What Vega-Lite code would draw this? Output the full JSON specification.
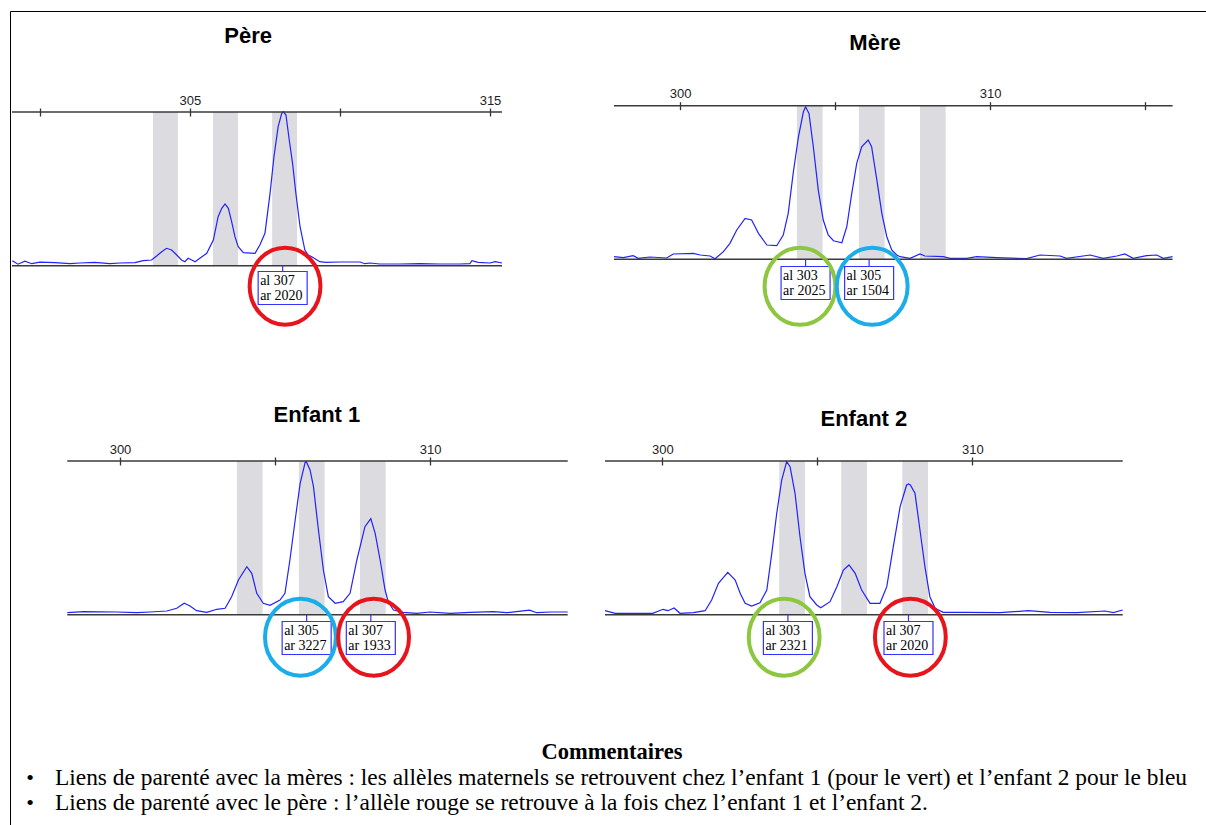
{
 "$schema": "https://vega.github.io/schema/vega-lite/v6.json",
 "width": 1196,
 "height": 814,
 "padding": {"left": 10, "top": 11, "right": 0, "bottom": 0},
 "autosize": {"type": "none"},
 "background": "white",
 "config": {"view": {"stroke": "#000000", "strokeWidth": 1}, "font": "Liberation Sans"},
 "datasets": {
  "bins": [{"debut": 303.77, "fin": 304.6}, {"debut": 305.77, "fin": 306.6}, {"debut": 307.74, "fin": 308.57}],
  "alleles": [
   {"panel": "Père", "allele": 307, "aire": 2020, "pb": 308.09},
   {"panel": "Mère", "allele": 303, "aire": 2025, "pb": 304.05},
   {"panel": "Mère", "allele": 305, "aire": 1504, "pb": 306.1},
   {"panel": "Enfant 1", "allele": 305, "aire": 3227, "pb": 306.02},
   {"panel": "Enfant 1", "allele": 307, "aire": 1933, "pb": 308.09},
   {"panel": "Enfant 2", "allele": 303, "aire": 2321, "pb": 304.05},
   {"panel": "Enfant 2", "allele": 307, "aire": 2020, "pb": 307.94}
  ],
  "cercles": [
   {"panel": "Père", "groupe": "paternel", "pb": 308.17},
   {"panel": "Mère", "groupe": "maternel A", "pb": 303.87},
   {"panel": "Mère", "groupe": "maternel B", "pb": 306.2},
   {"panel": "Enfant 1", "groupe": "maternel B", "pb": 305.82},
   {"panel": "Enfant 1", "groupe": "paternel", "pb": 308.18},
   {"panel": "Enfant 2", "groupe": "maternel A", "pb": 303.93},
   {"panel": "Enfant 2", "groupe": "paternel", "pb": 308.0}
  ],
  "textes": [
   {"ligne": 0, "type": "titre", "texte": "Commentaires"},
   {"ligne": 1, "type": "puce", "texte": "Liens de parenté avec la mères :  les allèles maternels se retrouvent chez l’enfant 1 (pour le vert) et l’enfant 2 pour le bleu"},
   {"ligne": 2, "type": "puce", "texte": "Liens de parenté avec le père : l’allèle rouge se retrouve à la fois chez l’enfant 1 et l’enfant 2."}
  ],
  "traces": [
   {"panel":"Père","pb":299.08,"signal":5},{"panel":"Père","pb":299.27,"signal":1.5},{"panel":"Père","pb":299.5,"signal":4.5},{"panel":"Père","pb":299.73,"signal":2},{"panel":"Père","pb":300.0,"signal":3.5},{"panel":"Père","pb":300.5,"signal":3},{"panel":"Père","pb":301.0,"signal":2},{"panel":"Père","pb":301.33,"signal":2.7},{"panel":"Père","pb":301.83,"signal":3.4},{"panel":"Père","pb":302.33,"signal":2},{"panel":"Père","pb":302.67,"signal":2.7},{"panel":"Père","pb":303.17,"signal":3},{"panel":"Père","pb":303.44,"signal":5},{"panel":"Père","pb":303.72,"signal":5.7},{"panel":"Père","pb":303.89,"signal":9.7},{"panel":"Père","pb":304.06,"signal":14},{"panel":"Père","pb":304.22,"signal":17.4},{"panel":"Père","pb":304.39,"signal":15.7},{"panel":"Père","pb":304.56,"signal":10.7},{"panel":"Père","pb":304.72,"signal":5.7},{"panel":"Père","pb":304.83,"signal":4},{"panel":"Père","pb":304.94,"signal":7.4},{"panel":"Père","pb":305.06,"signal":5.7},{"panel":"Père","pb":305.17,"signal":4},{"panel":"Père","pb":305.33,"signal":7.4},{"panel":"Père","pb":305.56,"signal":12.4},{"panel":"Père","pb":305.78,"signal":25.7},{"panel":"Père","pb":305.94,"signal":49},{"panel":"Père","pb":306.06,"signal":57.4},{"panel":"Père","pb":306.17,"signal":61.7},{"panel":"Père","pb":306.28,"signal":57.4},{"panel":"Père","pb":306.39,"signal":44},{"panel":"Père","pb":306.5,"signal":29},{"panel":"Père","pb":306.61,"signal":19},{"panel":"Père","pb":306.78,"signal":13},{"panel":"Père","pb":307.17,"signal":12.4},{"panel":"Père","pb":307.33,"signal":20.7},{"panel":"Père","pb":307.5,"signal":32.4},{"panel":"Père","pb":307.67,"signal":72.4},{"panel":"Père","pb":307.8,"signal":109},{"panel":"Père","pb":307.94,"signal":139},{"panel":"Père","pb":308.06,"signal":152.4},{"panel":"Père","pb":308.11,"signal":154},{"panel":"Père","pb":308.2,"signal":150.7},{"panel":"Père","pb":308.31,"signal":125.7},{"panel":"Père","pb":308.42,"signal":102.4},{"panel":"Père","pb":308.53,"signal":72.4},{"panel":"Père","pb":308.67,"signal":39},{"panel":"Père","pb":308.83,"signal":15.7},{"panel":"Père","pb":308.94,"signal":10.7},{"panel":"Père","pb":309.06,"signal":9},{"panel":"Père","pb":309.33,"signal":4},{"panel":"Père","pb":309.53,"signal":3.4},{"panel":"Père","pb":310.0,"signal":3.7},{"panel":"Père","pb":310.67,"signal":3.7},{"panel":"Père","pb":310.83,"signal":2},{"panel":"Père","pb":311.0,"signal":2.7},{"panel":"Père","pb":311.33,"signal":1.7},{"panel":"Père","pb":312.0,"signal":1.7},{"panel":"Père","pb":312.67,"signal":2},{"panel":"Père","pb":313.33,"signal":1.7},{"panel":"Père","pb":314.0,"signal":1.7},{"panel":"Père","pb":314.33,"signal":2},{"panel":"Père","pb":314.4,"signal":5},{"panel":"Père","pb":314.6,"signal":3.4},{"panel":"Père","pb":315.0,"signal":2.7},{"panel":"Père","pb":315.17,"signal":4},{"panel":"Père","pb":315.4,"signal":2.7},
   {"panel":"Mère","pb":297.87,"signal":2.6},{"panel":"Mère","pb":298.17,"signal":1.6},{"panel":"Mère","pb":298.49,"signal":3.6},{"panel":"Mère","pb":298.65,"signal":1},{"panel":"Mère","pb":299.03,"signal":2.3},{"panel":"Mère","pb":299.57,"signal":1.3},{"panel":"Mère","pb":299.78,"signal":5.3},{"panel":"Mère","pb":300.43,"signal":6},{"panel":"Mère","pb":300.65,"signal":4.3},{"panel":"Mère","pb":300.97,"signal":3.3},{"panel":"Mère","pb":301.13,"signal":0.6},{"panel":"Mère","pb":301.4,"signal":7.6},{"panel":"Mère","pb":301.61,"signal":16},{"panel":"Mère","pb":301.83,"signal":29.3},{"panel":"Mère","pb":302.1,"signal":41},{"panel":"Mère","pb":302.31,"signal":39.3},{"panel":"Mère","pb":302.53,"signal":26},{"panel":"Mère","pb":302.8,"signal":14.3},{"panel":"Mère","pb":303.12,"signal":13.6},{"panel":"Mère","pb":303.33,"signal":24.3},{"panel":"Mère","pb":303.49,"signal":46},{"panel":"Mère","pb":303.65,"signal":86},{"panel":"Mère","pb":303.82,"signal":122.6},{"panel":"Mère","pb":303.98,"signal":147.6},{"panel":"Mère","pb":304.05,"signal":152.6},{"panel":"Mère","pb":304.16,"signal":146},{"panel":"Mère","pb":304.3,"signal":112.6},{"panel":"Mère","pb":304.46,"signal":69.3},{"panel":"Mère","pb":304.62,"signal":39.3},{"panel":"Mère","pb":304.78,"signal":24.3},{"panel":"Mère","pb":304.95,"signal":18.6},{"panel":"Mère","pb":305.22,"signal":16.6},{"panel":"Mère","pb":305.38,"signal":32.6},{"panel":"Mère","pb":305.54,"signal":66},{"panel":"Mère","pb":305.7,"signal":96},{"panel":"Mère","pb":305.86,"signal":112.6},{"panel":"Mère","pb":306.07,"signal":119.3},{"panel":"Mère","pb":306.18,"signal":112.6},{"panel":"Mère","pb":306.35,"signal":79.3},{"panel":"Mère","pb":306.51,"signal":46},{"panel":"Mère","pb":306.67,"signal":22.6},{"panel":"Mère","pb":306.83,"signal":9.3},{"panel":"Mère","pb":306.99,"signal":4.3},{"panel":"Mère","pb":307.1,"signal":2.6},{"panel":"Mère","pb":307.42,"signal":1},{"panel":"Mère","pb":307.74,"signal":5.3},{"panel":"Mère","pb":307.9,"signal":3.3},{"panel":"Mère","pb":308.49,"signal":2.6},{"panel":"Mère","pb":308.71,"signal":1},{"panel":"Mère","pb":309.25,"signal":1},{"panel":"Mère","pb":309.57,"signal":2.6},{"panel":"Mère","pb":310.22,"signal":1.6},{"panel":"Mère","pb":311.18,"signal":0.6},{"panel":"Mère","pb":311.61,"signal":4.3},{"panel":"Mère","pb":312.26,"signal":3.3},{"panel":"Mère","pb":312.47,"signal":1},{"panel":"Mère","pb":313.23,"signal":4.3},{"panel":"Mère","pb":313.65,"signal":1},{"panel":"Mère","pb":314.09,"signal":3.3},{"panel":"Mère","pb":314.35,"signal":5.3},{"panel":"Mère","pb":314.62,"signal":1},{"panel":"Mère","pb":315.05,"signal":3.6},{"panel":"Mère","pb":315.38,"signal":4.3},{"panel":"Mère","pb":315.59,"signal":1},{"panel":"Mère","pb":315.89,"signal":2.6},
   {"panel":"Enfant 1","pb":298.3,"signal":2},{"panel":"Enfant 1","pb":298.82,"signal":3},{"panel":"Enfant 1","pb":299.89,"signal":2.7},{"panel":"Enfant 1","pb":300.54,"signal":2},{"panel":"Enfant 1","pb":300.97,"signal":2.7},{"panel":"Enfant 1","pb":301.51,"signal":3.7},{"panel":"Enfant 1","pb":301.83,"signal":6.4},{"panel":"Enfant 1","pb":302.07,"signal":11.4},{"panel":"Enfant 1","pb":302.26,"signal":8.7},{"panel":"Enfant 1","pb":302.47,"signal":4},{"panel":"Enfant 1","pb":302.8,"signal":2.4},{"panel":"Enfant 1","pb":303.12,"signal":5.4},{"panel":"Enfant 1","pb":303.39,"signal":6.4},{"panel":"Enfant 1","pb":303.6,"signal":18},{"panel":"Enfant 1","pb":303.82,"signal":34.7},{"panel":"Enfant 1","pb":304.09,"signal":48},{"panel":"Enfant 1","pb":304.25,"signal":41.4},{"panel":"Enfant 1","pb":304.41,"signal":21.4},{"panel":"Enfant 1","pb":304.62,"signal":11.4},{"panel":"Enfant 1","pb":304.84,"signal":9.4},{"panel":"Enfant 1","pb":305.16,"signal":14.7},{"panel":"Enfant 1","pb":305.32,"signal":21.4},{"panel":"Enfant 1","pb":305.48,"signal":54.7},{"panel":"Enfant 1","pb":305.65,"signal":94.7},{"panel":"Enfant 1","pb":305.81,"signal":131.4},{"panel":"Enfant 1","pb":305.97,"signal":152},{"panel":"Enfant 1","pb":306.01,"signal":153},{"panel":"Enfant 1","pb":306.13,"signal":144.7},{"panel":"Enfant 1","pb":306.24,"signal":128},{"panel":"Enfant 1","pb":306.4,"signal":84.7},{"panel":"Enfant 1","pb":306.56,"signal":44.7},{"panel":"Enfant 1","pb":306.72,"signal":18},{"panel":"Enfant 1","pb":306.94,"signal":11.4},{"panel":"Enfant 1","pb":307.2,"signal":13},{"panel":"Enfant 1","pb":307.42,"signal":21.4},{"panel":"Enfant 1","pb":307.64,"signal":54.7},{"panel":"Enfant 1","pb":307.9,"signal":88},{"panel":"Enfant 1","pb":308.09,"signal":96},{"panel":"Enfant 1","pb":308.23,"signal":81.4},{"panel":"Enfant 1","pb":308.39,"signal":54.7},{"panel":"Enfant 1","pb":308.55,"signal":24.7},{"panel":"Enfant 1","pb":308.65,"signal":13},{"panel":"Enfant 1","pb":308.82,"signal":4.7},{"panel":"Enfant 1","pb":309.14,"signal":2.4},{"panel":"Enfant 1","pb":309.57,"signal":1.4},{"panel":"Enfant 1","pb":310.0,"signal":2.7},{"panel":"Enfant 1","pb":310.65,"signal":1.4},{"panel":"Enfant 1","pb":311.29,"signal":2.4},{"panel":"Enfant 1","pb":312.04,"signal":3},{"panel":"Enfant 1","pb":312.47,"signal":2},{"panel":"Enfant 1","pb":313.06,"signal":4},{"panel":"Enfant 1","pb":313.21,"signal":4.5},{"panel":"Enfant 1","pb":313.44,"signal":2},{"panel":"Enfant 1","pb":313.87,"signal":2.7},{"panel":"Enfant 1","pb":314.44,"signal":2.7},
   {"panel":"Enfant 2","pb":298.15,"signal":4},{"panel":"Enfant 2","pb":298.48,"signal":1.4},{"panel":"Enfant 2","pb":299.69,"signal":1.4},{"panel":"Enfant 2","pb":300.02,"signal":5.4},{"panel":"Enfant 2","pb":300.18,"signal":4},{"panel":"Enfant 2","pb":300.38,"signal":6.7},{"panel":"Enfant 2","pb":300.57,"signal":1.4},{"panel":"Enfant 2","pb":301.0,"signal":2},{"panel":"Enfant 2","pb":301.38,"signal":4},{"panel":"Enfant 2","pb":301.59,"signal":14.7},{"panel":"Enfant 2","pb":301.81,"signal":31.4},{"panel":"Enfant 2","pb":302.11,"signal":42.4},{"panel":"Enfant 2","pb":302.35,"signal":34.7},{"panel":"Enfant 2","pb":302.51,"signal":21.4},{"panel":"Enfant 2","pb":302.67,"signal":11.4},{"panel":"Enfant 2","pb":302.88,"signal":8.7},{"panel":"Enfant 2","pb":303.15,"signal":12},{"panel":"Enfant 2","pb":303.37,"signal":24.7},{"panel":"Enfant 2","pb":303.53,"signal":61.4},{"panel":"Enfant 2","pb":303.69,"signal":101.4},{"panel":"Enfant 2","pb":303.85,"signal":134.7},{"panel":"Enfant 2","pb":304.01,"signal":153},{"panel":"Enfant 2","pb":304.12,"signal":148},{"panel":"Enfant 2","pb":304.28,"signal":121.4},{"panel":"Enfant 2","pb":304.44,"signal":78},{"panel":"Enfant 2","pb":304.6,"signal":41.4},{"panel":"Enfant 2","pb":304.76,"signal":18},{"panel":"Enfant 2","pb":304.98,"signal":9.7},{"panel":"Enfant 2","pb":305.11,"signal":7},{"panel":"Enfant 2","pb":305.41,"signal":13},{"panel":"Enfant 2","pb":305.63,"signal":28},{"panel":"Enfant 2","pb":305.84,"signal":44.7},{"panel":"Enfant 2","pb":306.02,"signal":49.7},{"panel":"Enfant 2","pb":306.22,"signal":41.4},{"panel":"Enfant 2","pb":306.43,"signal":24.7},{"panel":"Enfant 2","pb":306.7,"signal":11.4},{"panel":"Enfant 2","pb":307.02,"signal":11.4},{"panel":"Enfant 2","pb":307.24,"signal":28},{"panel":"Enfant 2","pb":307.45,"signal":68},{"panel":"Enfant 2","pb":307.67,"signal":108},{"panel":"Enfant 2","pb":307.88,"signal":129.7},{"panel":"Enfant 2","pb":307.94,"signal":130.7},{"panel":"Enfant 2","pb":308.0,"signal":129.7},{"panel":"Enfant 2","pb":308.15,"signal":121.4},{"panel":"Enfant 2","pb":308.31,"signal":84.7},{"panel":"Enfant 2","pb":308.47,"signal":48},{"panel":"Enfant 2","pb":308.63,"signal":18},{"panel":"Enfant 2","pb":308.8,"signal":6.4},{"panel":"Enfant 2","pb":309.06,"signal":2.4},{"panel":"Enfant 2","pb":309.82,"signal":2.4},{"panel":"Enfant 2","pb":310.89,"signal":2},{"panel":"Enfant 2","pb":311.81,"signal":4},{"panel":"Enfant 2","pb":312.51,"signal":2.4},{"panel":"Enfant 2","pb":313.37,"signal":2},{"panel":"Enfant 2","pb":314.28,"signal":3.7},{"panel":"Enfant 2","pb":314.55,"signal":2},{"panel":"Enfant 2","pb":314.85,"signal":4.7}
  ]
 },
 "layer": [
  {
   "layer": [
    {"data": {"name": "bins"}, "mark": {"type": "rect", "color": "#dcdbdf"},
     "encoding": {
      "x": {"field": "debut", "type": "quantitative", "scale": {"domain": [299.07, 315.4], "range": [2, 492], "nice": false, "zero": false},
            "axis": {"orient": "top", "offset": -105, "values": [300, 305, 310, 315], "format": "d", "labelExpr": "datum.value % 10 == 5 ? datum.label : ''", "domain": false, "grid": false, "tickSize": 8, "tickColor": "#333333", "tickWidth": 1.3, "labelFont": "Liberation Sans", "labelFontSize": 13, "labelColor": "#222222", "labelPadding": 1, "title": null, "labelFlush": false, "labelOverlap": false}},
      "x2": {"field": "fin"},
      "y": {"datum": 0, "type": "quantitative", "scale": {"domain": [0, 153.7], "range": [254.7, 101], "nice": false, "zero": false}, "axis": null},
      "y2": {"datum": 153.7}
     }},
    {"data": {"name": "traces"}, "transform": [{"filter": "datum.panel === 'Père'"}],
     "mark": {"type": "line", "color": "#2222ff", "strokeWidth": 1.2},
     "encoding": {
      "x": {"field": "pb", "type": "quantitative", "scale": {"domain": [299.07, 315.4], "range": [2, 492], "nice": false, "zero": false}},
      "y": {"field": "signal", "type": "quantitative", "scale": {"domain": [0, 153.7], "range": [254.7, 101], "nice": false, "zero": false}, "axis": null}
     }},
    {"data": {"values": [{}]}, "mark": {"type": "rule", "color": "#3a3a3a", "strokeWidth": 1.6},
     "encoding": {
      "x": {"datum": 299.07, "type": "quantitative", "scale": {"domain": [299.07, 315.4], "range": [2, 492], "nice": false, "zero": false}},
      "x2": {"datum": 315.4},
      "y": {"datum": 153.7, "type": "quantitative", "scale": {"domain": [0, 153.7], "range": [254.7, 101], "nice": false, "zero": false}, "axis": null}
     }},
    {"data": {"values": [{}]}, "mark": {"type": "rule", "color": "#3a3a3a", "strokeWidth": 1.6},
     "encoding": {
      "x": {"datum": 299.07, "type": "quantitative", "scale": {"domain": [299.07, 315.4], "range": [2, 492], "nice": false, "zero": false}},
      "x2": {"datum": 315.4},
      "y": {"datum": 0, "type": "quantitative", "scale": {"domain": [0, 153.7], "range": [254.7, 101], "nice": false, "zero": false}, "axis": null}
     }},
    {"data": {"name": "alleles"}, "transform": [{"filter": "datum.panel === 'Père'"}],
     "mark": {"type": "rule", "color": "#3333ff", "strokeWidth": 1.2, "y2Offset": 6.5},
     "encoding": {
      "x": {"field": "pb", "type": "quantitative", "scale": {"domain": [299.07, 315.4], "range": [2, 492], "nice": false, "zero": false}},
      "y": {"datum": 0, "type": "quantitative", "scale": {"domain": [0, 153.7], "range": [254.7, 101], "nice": false, "zero": false}, "axis": null},
      "y2": {"datum": 0}
     }},
    {"data": {"name": "alleles"}, "transform": [{"filter": "datum.panel === 'Père'"}],
     "mark": {"type": "rect", "width": 49, "height": 33, "yOffset": 22.3, "fill": "#ffffff", "stroke": "#3333ff", "strokeWidth": 1.2},
     "encoding": {
      "x": {"field": "pb", "type": "quantitative", "scale": {"domain": [299.07, 315.4], "range": [2, 492], "nice": false, "zero": false}},
      "y": {"datum": 0, "type": "quantitative", "scale": {"domain": [0, 153.7], "range": [254.7, 101], "nice": false, "zero": false}, "axis": null}
     }},
    {"data": {"name": "alleles"}, "transform": [{"filter": "datum.panel === 'Père'"}, {"calculate": "['al ' + datum.allele, 'ar ' + datum.aire]", "as": "etiquette"}],
     "mark": {"type": "text", "align": "left", "baseline": "middle", "dx": -22.5, "yOffset": 14.8, "font": "Liberation Serif", "fontSize": 14, "lineHeight": 15, "color": "#000000"},
     "encoding": {
      "x": {"field": "pb", "type": "quantitative", "scale": {"domain": [299.07, 315.4], "range": [2, 492], "nice": false, "zero": false}},
      "y": {"datum": 0, "type": "quantitative", "scale": {"domain": [0, 153.7], "range": [254.7, 101], "nice": false, "zero": false}, "axis": null},
      "text": {"field": "etiquette"}
     }},
    {"data": {"name": "cercles"}, "transform": [{"filter": "datum.panel === 'Père'"}],
     "mark": {"type": "point", "shape": "M -0.92 0 A 0.92 1 0 1 1 0.92 0 A 0.92 1 0 1 1 -0.92 0 Z", "size": 5929, "filled": false, "strokeWidth": 4, "opacity": 1, "yOffset": 20.5},
     "encoding": {
      "x": {"field": "pb", "type": "quantitative", "scale": {"domain": [299.07, 315.4], "range": [2, 492], "nice": false, "zero": false}},
      "y": {"datum": 0, "type": "quantitative", "scale": {"domain": [0, 153.7], "range": [254.7, 101], "nice": false, "zero": false}, "axis": null},
      "color": {"field": "groupe", "type": "nominal", "scale": {"domain": ["paternel", "maternel A", "maternel B"], "range": ["#e8141c", "#8dc63f", "#1badea"]}, "legend": null}
     }},
    {"data": {"values": [{}]},
     "mark": {"type": "text", "text": "Père", "font": "Liberation Sans", "fontWeight": "bold", "fontSize": 22, "align": "center", "baseline": "alphabetic", "color": "#000000"},
     "encoding": {
      "x": {"datum": 306.94, "type": "quantitative", "scale": {"domain": [299.07, 315.4], "range": [2, 492], "nice": false, "zero": false}},
      "y": {"datum": 223, "type": "quantitative", "scale": {"domain": [0, 153.7], "range": [254.7, 101], "nice": false, "zero": false}, "axis": null}
     }}
   ]
  },
  {
   "layer": [
    {"data": {"name": "bins"}, "mark": {"type": "rect", "color": "#dcdbdf"},
     "encoding": {
      "x": {"field": "debut", "type": "quantitative", "scale": {"domain": [297.87, 315.89], "range": [604, 1162.6], "nice": false, "zero": false},
            "axis": {"orient": "top", "offset": -98.7, "values": [300, 305, 310, 315], "format": "d", "labelExpr": "datum.value % 10 == 0 ? datum.label : ''", "domain": false, "grid": false, "tickSize": 8, "tickColor": "#333333", "tickWidth": 1.3, "labelFont": "Liberation Sans", "labelFontSize": 13, "labelColor": "#222222", "labelPadding": 1, "title": null, "labelFlush": false, "labelOverlap": false}},
      "x2": {"field": "fin"},
      "y": {"datum": 0, "type": "quantitative", "scale": {"domain": [0, 153.7], "range": [248.3, 94.7], "nice": false, "zero": false}, "axis": null},
      "y2": {"datum": 153.7}
     }},
    {"data": {"name": "traces"}, "transform": [{"filter": "datum.panel === 'Mère'"}],
     "mark": {"type": "line", "color": "#2222ff", "strokeWidth": 1.2},
     "encoding": {
      "x": {"field": "pb", "type": "quantitative", "scale": {"domain": [297.87, 315.89], "range": [604, 1162.6], "nice": false, "zero": false}},
      "y": {"field": "signal", "type": "quantitative", "scale": {"domain": [0, 153.7], "range": [248.3, 94.7], "nice": false, "zero": false}, "axis": null}
     }},
    {"data": {"values": [{}]}, "mark": {"type": "rule", "color": "#3a3a3a", "strokeWidth": 1.6},
     "encoding": {
      "x": {"datum": 297.87, "type": "quantitative", "scale": {"domain": [297.87, 315.89], "range": [604, 1162.6], "nice": false, "zero": false}},
      "x2": {"datum": 315.89},
      "y": {"datum": 153.7, "type": "quantitative", "scale": {"domain": [0, 153.7], "range": [248.3, 94.7], "nice": false, "zero": false}, "axis": null}
     }},
    {"data": {"values": [{}]}, "mark": {"type": "rule", "color": "#3a3a3a", "strokeWidth": 1.6},
     "encoding": {
      "x": {"datum": 297.87, "type": "quantitative", "scale": {"domain": [297.87, 315.89], "range": [604, 1162.6], "nice": false, "zero": false}},
      "x2": {"datum": 315.89},
      "y": {"datum": 0, "type": "quantitative", "scale": {"domain": [0, 153.7], "range": [248.3, 94.7], "nice": false, "zero": false}, "axis": null}
     }},
    {"data": {"name": "alleles"}, "transform": [{"filter": "datum.panel === 'Mère'"}],
     "mark": {"type": "rule", "color": "#3333ff", "strokeWidth": 1.2, "y2Offset": 7},
     "encoding": {
      "x": {"field": "pb", "type": "quantitative", "scale": {"domain": [297.87, 315.89], "range": [604, 1162.6], "nice": false, "zero": false}},
      "y": {"datum": 0, "type": "quantitative", "scale": {"domain": [0, 153.7], "range": [248.3, 94.7], "nice": false, "zero": false}, "axis": null},
      "y2": {"datum": 0}
     }},
    {"data": {"name": "alleles"}, "transform": [{"filter": "datum.panel === 'Mère'"}],
     "mark": {"type": "rect", "width": 49, "height": 33, "yOffset": 23.7, "fill": "#ffffff", "stroke": "#3333ff", "strokeWidth": 1.2},
     "encoding": {
      "x": {"field": "pb", "type": "quantitative", "scale": {"domain": [297.87, 315.89], "range": [604, 1162.6], "nice": false, "zero": false}},
      "y": {"datum": 0, "type": "quantitative", "scale": {"domain": [0, 153.7], "range": [248.3, 94.7], "nice": false, "zero": false}, "axis": null}
     }},
    {"data": {"name": "alleles"}, "transform": [{"filter": "datum.panel === 'Mère'"}, {"calculate": "['al ' + datum.allele, 'ar ' + datum.aire]", "as": "etiquette"}],
     "mark": {"type": "text", "align": "left", "baseline": "middle", "dx": -22.5, "yOffset": 16.2, "font": "Liberation Serif", "fontSize": 14, "lineHeight": 15, "color": "#000000"},
     "encoding": {
      "x": {"field": "pb", "type": "quantitative", "scale": {"domain": [297.87, 315.89], "range": [604, 1162.6], "nice": false, "zero": false}},
      "y": {"datum": 0, "type": "quantitative", "scale": {"domain": [0, 153.7], "range": [248.3, 94.7], "nice": false, "zero": false}, "axis": null},
      "text": {"field": "etiquette"}
     }},
    {"data": {"name": "cercles"}, "transform": [{"filter": "datum.panel === 'Mère'"}],
     "mark": {"type": "point", "shape": "M -0.92 0 A 0.92 1 0 1 1 0.92 0 A 0.92 1 0 1 1 -0.92 0 Z", "size": 5929, "filled": false, "strokeWidth": 4, "opacity": 1, "yOffset": 27},
     "encoding": {
      "x": {"field": "pb", "type": "quantitative", "scale": {"domain": [297.87, 315.89], "range": [604, 1162.6], "nice": false, "zero": false}},
      "y": {"datum": 0, "type": "quantitative", "scale": {"domain": [0, 153.7], "range": [248.3, 94.7], "nice": false, "zero": false}, "axis": null},
      "color": {"field": "groupe", "type": "nominal", "scale": {"domain": ["paternel", "maternel A", "maternel B"], "range": ["#e8141c", "#8dc63f", "#1badea"]}, "legend": null}
     }},
    {"data": {"values": [{}]},
     "mark": {"type": "text", "text": "Mère", "font": "Liberation Sans", "fontWeight": "bold", "fontSize": 22, "align": "center", "baseline": "alphabetic", "color": "#000000"},
     "encoding": {
      "x": {"datum": 306.29, "type": "quantitative", "scale": {"domain": [297.87, 315.89], "range": [604, 1162.6], "nice": false, "zero": false}},
      "y": {"datum": 209.3, "type": "quantitative", "scale": {"domain": [0, 153.7], "range": [248.3, 94.7], "nice": false, "zero": false}, "axis": null}
     }}
   ]
  },
  {
   "layer": [
    {"data": {"name": "bins"}, "mark": {"type": "rect", "color": "#dcdbdf"},
     "encoding": {
      "x": {"field": "debut", "type": "quantitative", "scale": {"domain": [298.3, 314.44], "range": [57.3, 557.7], "nice": false, "zero": false},
            "axis": {"orient": "top", "offset": -454, "values": [300, 305, 310], "format": "d", "labelExpr": "datum.value % 10 == 0 ? datum.label : ''", "domain": false, "grid": false, "tickSize": 8, "tickColor": "#333333", "tickWidth": 1.3, "labelFont": "Liberation Sans", "labelFontSize": 13, "labelColor": "#222222", "labelPadding": 1, "title": null, "labelFlush": false, "labelOverlap": false}},
      "x2": {"field": "fin"},
      "y": {"datum": 0, "type": "quantitative", "scale": {"domain": [0, 153.7], "range": [603.7, 450], "nice": false, "zero": false}, "axis": null},
      "y2": {"datum": 153.7}
     }},
    {"data": {"name": "traces"}, "transform": [{"filter": "datum.panel === 'Enfant 1'"}],
     "mark": {"type": "line", "color": "#2222ff", "strokeWidth": 1.2},
     "encoding": {
      "x": {"field": "pb", "type": "quantitative", "scale": {"domain": [298.3, 314.44], "range": [57.3, 557.7], "nice": false, "zero": false}},
      "y": {"field": "signal", "type": "quantitative", "scale": {"domain": [0, 153.7], "range": [603.7, 450], "nice": false, "zero": false}, "axis": null}
     }},
    {"data": {"values": [{}]}, "mark": {"type": "rule", "color": "#3a3a3a", "strokeWidth": 1.6},
     "encoding": {
      "x": {"datum": 298.3, "type": "quantitative", "scale": {"domain": [298.3, 314.44], "range": [57.3, 557.7], "nice": false, "zero": false}},
      "x2": {"datum": 314.44},
      "y": {"datum": 153.7, "type": "quantitative", "scale": {"domain": [0, 153.7], "range": [603.7, 450], "nice": false, "zero": false}, "axis": null}
     }},
    {"data": {"values": [{}]}, "mark": {"type": "rule", "color": "#3a3a3a", "strokeWidth": 1.6},
     "encoding": {
      "x": {"datum": 298.3, "type": "quantitative", "scale": {"domain": [298.3, 314.44], "range": [57.3, 557.7], "nice": false, "zero": false}},
      "x2": {"datum": 314.44},
      "y": {"datum": 0, "type": "quantitative", "scale": {"domain": [0, 153.7], "range": [603.7, 450], "nice": false, "zero": false}, "axis": null}
     }},
    {"data": {"name": "alleles"}, "transform": [{"filter": "datum.panel === 'Enfant 1'"}],
     "mark": {"type": "rule", "color": "#3333ff", "strokeWidth": 1.2, "y2Offset": 6.8},
     "encoding": {
      "x": {"field": "pb", "type": "quantitative", "scale": {"domain": [298.3, 314.44], "range": [57.3, 557.7], "nice": false, "zero": false}},
      "y": {"datum": 0, "type": "quantitative", "scale": {"domain": [0, 153.7], "range": [603.7, 450], "nice": false, "zero": false}, "axis": null},
      "y2": {"datum": 0}
     }},
    {"data": {"name": "alleles"}, "transform": [{"filter": "datum.panel === 'Enfant 1'"}],
     "mark": {"type": "rect", "width": 49, "height": 33, "yOffset": 23.3, "fill": "#ffffff", "stroke": "#3333ff", "strokeWidth": 1.2},
     "encoding": {
      "x": {"field": "pb", "type": "quantitative", "scale": {"domain": [298.3, 314.44], "range": [57.3, 557.7], "nice": false, "zero": false}},
      "y": {"datum": 0, "type": "quantitative", "scale": {"domain": [0, 153.7], "range": [603.7, 450], "nice": false, "zero": false}, "axis": null}
     }},
    {"data": {"name": "alleles"}, "transform": [{"filter": "datum.panel === 'Enfant 1'"}, {"calculate": "['al ' + datum.allele, 'ar ' + datum.aire]", "as": "etiquette"}],
     "mark": {"type": "text", "align": "left", "baseline": "middle", "dx": -22.5, "yOffset": 15.8, "font": "Liberation Serif", "fontSize": 14, "lineHeight": 15, "color": "#000000"},
     "encoding": {
      "x": {"field": "pb", "type": "quantitative", "scale": {"domain": [298.3, 314.44], "range": [57.3, 557.7], "nice": false, "zero": false}},
      "y": {"datum": 0, "type": "quantitative", "scale": {"domain": [0, 153.7], "range": [603.7, 450], "nice": false, "zero": false}, "axis": null},
      "text": {"field": "etiquette"}
     }},
    {"data": {"name": "cercles"}, "transform": [{"filter": "datum.panel === 'Enfant 1'"}],
     "mark": {"type": "point", "shape": "M -0.92 0 A 0.92 1 0 1 1 0.92 0 A 0.92 1 0 1 1 -0.92 0 Z", "size": 5929, "filled": false, "strokeWidth": 4, "opacity": 1, "yOffset": 22.5},
     "encoding": {
      "x": {"field": "pb", "type": "quantitative", "scale": {"domain": [298.3, 314.44], "range": [57.3, 557.7], "nice": false, "zero": false}},
      "y": {"datum": 0, "type": "quantitative", "scale": {"domain": [0, 153.7], "range": [603.7, 450], "nice": false, "zero": false}, "axis": null},
      "color": {"field": "groupe", "type": "nominal", "scale": {"domain": ["paternel", "maternel A", "maternel B"], "range": ["#e8141c", "#8dc63f", "#1badea"]}, "legend": null}
     }},
    {"data": {"values": [{}]},
     "mark": {"type": "text", "text": "Enfant 1", "font": "Liberation Sans", "fontWeight": "bold", "fontSize": 22, "align": "center", "baseline": "alphabetic", "color": "#000000"},
     "encoding": {
      "x": {"datum": 306.35, "type": "quantitative", "scale": {"domain": [298.3, 314.44], "range": [57.3, 557.7], "nice": false, "zero": false}},
      "y": {"datum": 193, "type": "quantitative", "scale": {"domain": [0, 153.7], "range": [603.7, 450], "nice": false, "zero": false}, "axis": null}
     }}
   ]
  },
  {
   "layer": [
    {"data": {"name": "bins"}, "mark": {"type": "rect", "color": "#dcdbdf"},
     "encoding": {
      "x": {"field": "debut", "type": "quantitative", "scale": {"domain": [298.15, 314.85], "range": [595, 1112.7], "nice": false, "zero": false},
            "axis": {"orient": "top", "offset": -454, "values": [300, 305, 310], "format": "d", "labelExpr": "datum.value % 10 == 0 ? datum.label : ''", "domain": false, "grid": false, "tickSize": 8, "tickColor": "#333333", "tickWidth": 1.3, "labelFont": "Liberation Sans", "labelFontSize": 13, "labelColor": "#222222", "labelPadding": 1, "title": null, "labelFlush": false, "labelOverlap": false}},
      "x2": {"field": "fin"},
      "y": {"datum": 0, "type": "quantitative", "scale": {"domain": [0, 153.7], "range": [603.7, 450], "nice": false, "zero": false}, "axis": null},
      "y2": {"datum": 153.7}
     }},
    {"data": {"name": "traces"}, "transform": [{"filter": "datum.panel === 'Enfant 2'"}],
     "mark": {"type": "line", "color": "#2222ff", "strokeWidth": 1.2},
     "encoding": {
      "x": {"field": "pb", "type": "quantitative", "scale": {"domain": [298.15, 314.85], "range": [595, 1112.7], "nice": false, "zero": false}},
      "y": {"field": "signal", "type": "quantitative", "scale": {"domain": [0, 153.7], "range": [603.7, 450], "nice": false, "zero": false}, "axis": null}
     }},
    {"data": {"values": [{}]}, "mark": {"type": "rule", "color": "#3a3a3a", "strokeWidth": 1.6},
     "encoding": {
      "x": {"datum": 298.15, "type": "quantitative", "scale": {"domain": [298.15, 314.85], "range": [595, 1112.7], "nice": false, "zero": false}},
      "x2": {"datum": 314.85},
      "y": {"datum": 153.7, "type": "quantitative", "scale": {"domain": [0, 153.7], "range": [603.7, 450], "nice": false, "zero": false}, "axis": null}
     }},
    {"data": {"values": [{}]}, "mark": {"type": "rule", "color": "#3a3a3a", "strokeWidth": 1.6},
     "encoding": {
      "x": {"datum": 298.15, "type": "quantitative", "scale": {"domain": [298.15, 314.85], "range": [595, 1112.7], "nice": false, "zero": false}},
      "x2": {"datum": 314.85},
      "y": {"datum": 0, "type": "quantitative", "scale": {"domain": [0, 153.7], "range": [603.7, 450], "nice": false, "zero": false}, "axis": null}
     }},
    {"data": {"name": "alleles"}, "transform": [{"filter": "datum.panel === 'Enfant 2'"}],
     "mark": {"type": "rule", "color": "#3333ff", "strokeWidth": 1.2, "y2Offset": 6.8},
     "encoding": {
      "x": {"field": "pb", "type": "quantitative", "scale": {"domain": [298.15, 314.85], "range": [595, 1112.7], "nice": false, "zero": false}},
      "y": {"datum": 0, "type": "quantitative", "scale": {"domain": [0, 153.7], "range": [603.7, 450], "nice": false, "zero": false}, "axis": null},
      "y2": {"datum": 0}
     }},
    {"data": {"name": "alleles"}, "transform": [{"filter": "datum.panel === 'Enfant 2'"}],
     "mark": {"type": "rect", "width": 49, "height": 33, "yOffset": 23.3, "fill": "#ffffff", "stroke": "#3333ff", "strokeWidth": 1.2},
     "encoding": {
      "x": {"field": "pb", "type": "quantitative", "scale": {"domain": [298.15, 314.85], "range": [595, 1112.7], "nice": false, "zero": false}},
      "y": {"datum": 0, "type": "quantitative", "scale": {"domain": [0, 153.7], "range": [603.7, 450], "nice": false, "zero": false}, "axis": null}
     }},
    {"data": {"name": "alleles"}, "transform": [{"filter": "datum.panel === 'Enfant 2'"}, {"calculate": "['al ' + datum.allele, 'ar ' + datum.aire]", "as": "etiquette"}],
     "mark": {"type": "text", "align": "left", "baseline": "middle", "dx": -22.5, "yOffset": 15.8, "font": "Liberation Serif", "fontSize": 14, "lineHeight": 15, "color": "#000000"},
     "encoding": {
      "x": {"field": "pb", "type": "quantitative", "scale": {"domain": [298.15, 314.85], "range": [595, 1112.7], "nice": false, "zero": false}},
      "y": {"datum": 0, "type": "quantitative", "scale": {"domain": [0, 153.7], "range": [603.7, 450], "nice": false, "zero": false}, "axis": null},
      "text": {"field": "etiquette"}
     }},
    {"data": {"name": "cercles"}, "transform": [{"filter": "datum.panel === 'Enfant 2'"}],
     "mark": {"type": "point", "shape": "M -0.92 0 A 0.92 1 0 1 1 0.92 0 A 0.92 1 0 1 1 -0.92 0 Z", "size": 5929, "filled": false, "strokeWidth": 4, "opacity": 1, "yOffset": 22.5},
     "encoding": {
      "x": {"field": "pb", "type": "quantitative", "scale": {"domain": [298.15, 314.85], "range": [595, 1112.7], "nice": false, "zero": false}},
      "y": {"datum": 0, "type": "quantitative", "scale": {"domain": [0, 153.7], "range": [603.7, 450], "nice": false, "zero": false}, "axis": null},
      "color": {"field": "groupe", "type": "nominal", "scale": {"domain": ["paternel", "maternel A", "maternel B"], "range": ["#e8141c", "#8dc63f", "#1badea"]}, "legend": null}
     }},
    {"data": {"values": [{}]},
     "mark": {"type": "text", "text": "Enfant 2", "font": "Liberation Sans", "fontWeight": "bold", "fontSize": 22, "align": "center", "baseline": "alphabetic", "color": "#000000"},
     "encoding": {
      "x": {"datum": 306.5, "type": "quantitative", "scale": {"domain": [298.15, 314.85], "range": [595, 1112.7], "nice": false, "zero": false}},
      "y": {"datum": 188.7, "type": "quantitative", "scale": {"domain": [0, 153.7], "range": [603.7, 450], "nice": false, "zero": false}, "axis": null}
     }}
   ]
  },
  {
   "data": {"name": "textes"},
   "layer": [
    {"transform": [{"filter": "datum.type === 'titre'"}],
     "mark": {"type": "text", "font": "Liberation Serif", "fontWeight": "bold", "fontSize": 22.5, "align": "center", "baseline": "middle", "color": "#000000"},
     "encoding": {
      "x": {"datum": 0.5, "type": "quantitative", "scale": {"domain": [0, 1], "range": [45, 1159], "nice": false, "zero": false}, "axis": null},
      "y": {"field": "ligne", "type": "quantitative", "scale": {"domain": [0, 2], "range": [741, 792], "nice": false, "zero": false}, "axis": null},
      "text": {"field": "texte"}
     }},
    {"transform": [{"filter": "datum.type === 'puce'"}],
     "mark": {"type": "text", "font": "Liberation Serif", "fontSize": 23.4, "align": "left", "baseline": "middle", "color": "#000000"},
     "encoding": {
      "x": {"datum": 0, "type": "quantitative", "scale": {"domain": [0, 1], "range": [45, 1159], "nice": false, "zero": false}, "axis": null},
      "y": {"field": "ligne", "type": "quantitative", "scale": {"domain": [0, 2], "range": [741, 792], "nice": false, "zero": false}, "axis": null},
      "text": {"field": "texte"}
     }},
    {"transform": [{"filter": "datum.type === 'puce'"}],
     "mark": {"type": "text", "text": "•", "font": "Liberation Serif", "fontSize": 22, "align": "center", "baseline": "middle", "dx": -25, "color": "#000000"},
     "encoding": {
      "x": {"datum": 0, "type": "quantitative", "scale": {"domain": [0, 1], "range": [45, 1159], "nice": false, "zero": false}, "axis": null},
      "y": {"field": "ligne", "type": "quantitative", "scale": {"domain": [0, 2], "range": [741, 792], "nice": false, "zero": false}, "axis": null}
     }}
   ]
  }
 ],
 "resolve": {"scale": {"x": "independent", "y": "independent"}, "axis": {"x": "independent", "y": "independent"}}
}
